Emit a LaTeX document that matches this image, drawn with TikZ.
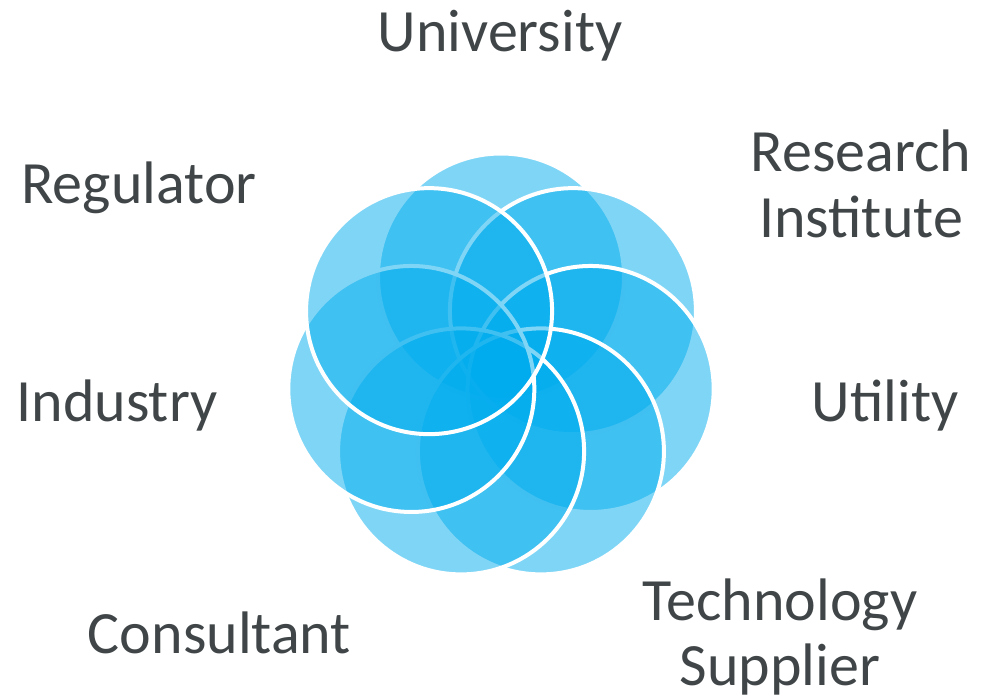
\documentclass[tikz,border=0pt]{standalone}
\usepackage{fontspec}
\setmainfont{Carlito}
\usetikzlibrary{calc}
\definecolor{petalblue}{RGB}{0,172,238}
\definecolor{labelgray}{RGB}{64,70,72}
\begin{document}
\begin{tikzpicture}[x=1pt,y=-1pt,
  petal/.style={circle, inner sep=0pt, minimum size=246pt,
    fill=petalblue, fill opacity=0.5, draw=white, line width=4pt},
  lbl/.style={text=labelgray, font=\fontsize{60}{60}\selectfont,
    anchor=base, inner sep=0pt}]
\useasboundingbox (0,0) rectangle (986,696);
\coordinate (hub) at (501,368.5);
% seven overlapping petals, placed clockwise from the top
\foreach \i/\name in {0/univ,1/res,2/util,3/tech,4/cons,5/ind,6/reg}
  \node[petal] (\name) at ($(hub)+({\i*360/7-90}:92)$) {};
% labels around the rosette
\node[lbl] (lblUniv) at (500,51) {University};
\node[lbl] (lblRes1) at (861,171) {Research};
\node[lbl] (lblRes2) at (861,237) {Institute};
\node[lbl] (lblUtil) at (885,421) {Utility};
\node[lbl] (lblTech1) at (780,620) {Technology};
\node[lbl] (lblTech2) at (780,685) {Supplier};
\node[lbl] (lblCons) at (219.5,653) {Consultant};
\node[lbl] (lblInd) at (117,421) {Industry};
\node[lbl] (lblReg) at (139,203) {Regulator};
\end{tikzpicture}
\end{document}
